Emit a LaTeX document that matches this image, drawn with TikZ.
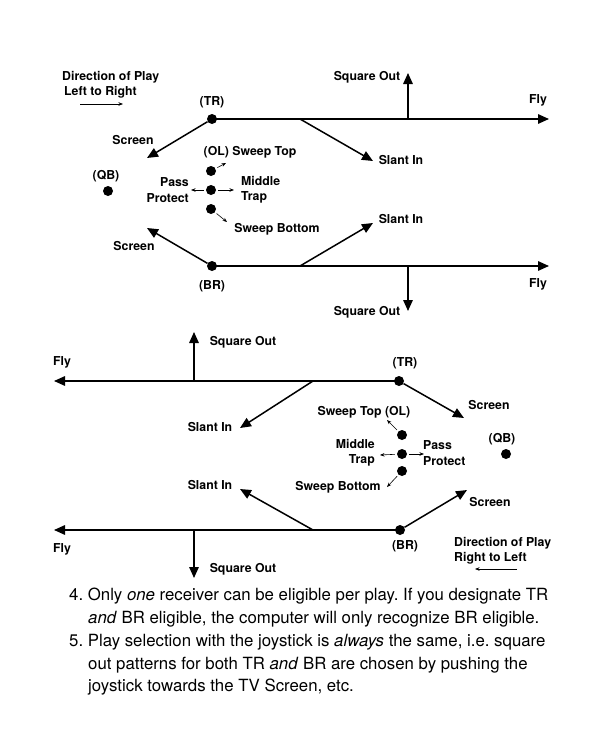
\documentclass[tikz,border=0pt]{standalone}
\usepackage{fontspec}
\setmainfont{TeX Gyre Heros}
\usetikzlibrary{arrows.meta}
\begin{document}
\frenchspacing
\begin{tikzpicture}[x=1pt,y=-1pt,
 route/.style={line width=1.5pt,-{Triangle[length=11pt,width=9.5pt]}},
 hint/.style={line width=0.6pt,shorten <=2pt,-{Stealth[length=4.5pt,width=3.5pt]}},
 dot/.style={circle,fill,inner sep=0pt,minimum size=10pt},
 lbl/.style={font=\bfseries\fontsize{12.3}{15.5}\selectfont,inner sep=0pt},
 body/.style={font=\fontsize{16.8}{22.8}\selectfont,inner sep=0pt,align=left,anchor=north west},
]
\useasboundingbox[fill=white] (0,0) rectangle (600,752);

% ---------- top diagram (left to right) ----------
\node[dot] (tr1) at (212,119) {};
\node[dot] (br1) at (212,266) {};
\node[dot] (qb1) at (108,191) {};
\node[dot] (ol1a) at (211,171) {};
\node[dot] (ol1b) at (211,190) {};
\node[dot] (ol1c) at (211,209) {};
\coordinate (fly1) at (549,119);
\coordinate (sq1b) at (408,119);
\coordinate (sq1) at (408,73);
\coordinate (sl1b) at (300,119);
\coordinate (sl1) at (373,161);
\coordinate (sc1) at (147,158);
\coordinate (fly1b) at (549,266);
\coordinate (sq1c) at (408,266);
\coordinate (sq1d) at (408,311);
\coordinate (sl1c) at (300,266);
\coordinate (sl1d) at (373,223);
\coordinate (sc1b) at (147,228);
\coordinate (h1a) at (226,163);
\coordinate (h1b) at (234,190);
\coordinate (h1c) at (191,190);
\coordinate (h1d) at (227,222);
\coordinate (d1a) at (80,104);
\coordinate (d1b) at (123,104);

\draw[route] (tr1.center) -- (fly1);
\draw[route] (sq1b) -- (sq1);
\draw[route] (sl1b) -- (sl1);
\draw[route] (tr1) -- (sc1);
\draw[route] (br1.center) -- (fly1b);
\draw[route] (sq1c) -- (sq1d);
\draw[route] (sl1c) -- (sl1d);
\draw[route] (br1) -- (sc1b);
\draw[hint] (ol1a) -- (h1a);
\draw[hint] (ol1b) -- (h1b);
\draw[hint] (ol1b) -- (h1c);
\draw[hint] (ol1c) -- (h1d);
\draw[line width=0.6pt,-{Stealth[length=4.5pt,width=3.5pt]}] (d1a) -- (d1b);

\node[lbl,align=left,anchor=west] (dir1) at (62,85) {Direction of Play\\\hspace*{2pt}Left to Right};
\node[lbl] (ltr1) at (212,102) {(TR)};
\node[lbl] (lsq1) at (367,77) {Square Out};
\node[lbl] (lfly1) at (538,100) {Fly};
\node[lbl] (lsl1) at (401,160) {Slant In};
\node[lbl] (lsc1) at (133,140) {Screen};
\node[lbl] (lqb1) at (106,176) {(QB)};
\node[lbl] (lol1) at (250,152) {(OL)\ Sweep Top};
\node[lbl,align=right,anchor=east] (lpp1) at (189,190) {Pass\\Protect};
\node[lbl,align=left,anchor=west] (lmt1) at (241,190) {Middle\\Trap};
\node[lbl] (lsb1) at (277,229) {Sweep Bottom};
\node[lbl] (lsc1b) at (134,246) {Screen};
\node[lbl] (lbr1) at (212,286) {(BR)};
\node[lbl] (lsl1b) at (401,219) {Slant In};
\node[lbl] (lsq1b) at (367,312) {Square Out};
\node[lbl] (lfly1b) at (538,284) {Fly};

% ---------- bottom diagram (right to left) ----------
\node[dot] (tr2) at (399,381) {};
\node[dot] (br2) at (400,530) {};
\node[dot] (qb2) at (506,454) {};
\node[dot] (ol2a) at (402,435) {};
\node[dot] (ol2b) at (402,454) {};
\node[dot] (ol2c) at (402,471) {};
\coordinate (fly2) at (54,381);
\coordinate (sq2b) at (194,381);
\coordinate (sq2) at (194,332);
\coordinate (sl2b) at (313,381);
\coordinate (sl2) at (240,428);
\coordinate (sc2) at (464,418);
\coordinate (fly2b) at (54,530);
\coordinate (sq2c) at (194,530);
\coordinate (sq2d) at (194,578);
\coordinate (sl2c) at (313,530);
\coordinate (sl2d) at (240,489);
\coordinate (sc2b) at (467,490);
\coordinate (h2a) at (387,420);
\coordinate (h2b) at (380,455);
\coordinate (h2c) at (424,454);
\coordinate (h2d) at (387,487);
\coordinate (d2a) at (517,569);
\coordinate (d2b) at (475,569);

\draw[route] (tr2.center) -- (fly2);
\draw[route] (sq2b) -- (sq2);
\draw[route] (sl2b) -- (sl2);
\draw[route] (tr2) -- (sc2);
\draw[route] (br2.center) -- (fly2b);
\draw[route] (sq2c) -- (sq2d);
\draw[route] (sl2c) -- (sl2d);
\draw[route] (br2) -- (sc2b);
\draw[hint] (ol2a) -- (h2a);
\draw[hint] (ol2b) -- (h2b);
\draw[hint] (ol2b) -- (h2c);
\draw[hint] (ol2c) -- (h2d);
\draw[line width=0.6pt,-{Stealth[length=4.5pt,width=3.5pt]}] (d2a) -- (d2b);

\node[lbl] (lsq2) at (243,342) {Square Out};
\node[lbl] (lfly2) at (62,362) {Fly};
\node[lbl] (lsl2) at (210,427) {Slant In};
\node[lbl] (ltr2) at (405,363) {(TR)};
\node[lbl] (lsc2) at (489,405) {Screen};
\node[lbl] (lol2) at (364,412) {Sweep Top (OL)};
\node[lbl,align=right,anchor=east] (lmt2) at (375,453) {Middle\\Trap};
\node[lbl,align=left,anchor=west] (lpp2) at (423,453) {Pass\\Protect};
\node[lbl] (lqb2) at (502,439) {(QB)};
\node[lbl] (lsb2) at (338,487) {Sweep Bottom};
\node[lbl] (lsl2b) at (210,485) {Slant In};
\node[lbl] (lsc2b) at (490,502) {Screen};
\node[lbl] (lbr2) at (405,546) {(BR)};
\node[lbl] (lsq2b) at (243,569) {Square Out};
\node[lbl] (lfly2b) at (62,549) {Fly};
\node[lbl,align=left,anchor=west] (dir2) at (454,551) {Direction of Play\\Right to Left};

% ---------- text ----------
\node[body] (txt) at (69,588) {4.\ Only \textit{one} receiver can be eligible per play. If you designate TR\\
\hspace*{19pt}\textit{and} BR eligible, the computer will only recognize BR eligible.\\
5.\ Play selection with the joystick is \textit{always} the same, i.e. square\\
\hspace*{19pt}out patterns for both TR \textit{and} BR are chosen by pushing the\\
\hspace*{19pt}joystick towards the TV Screen, etc.};
\end{tikzpicture}
\end{document}
